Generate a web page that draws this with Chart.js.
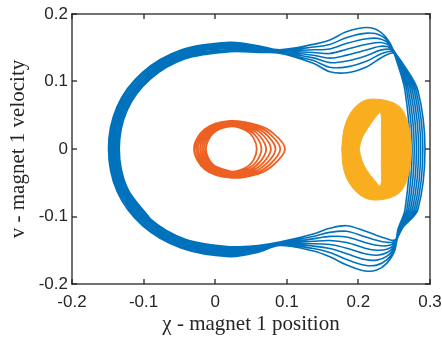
<!DOCTYPE html>
<html><head><meta charset="utf-8">
<script src="https://cdn.jsdelivr.net/npm/chart.js@4.4.1/dist/chart.umd.min.js"></script>
<style>html,body{margin:0;padding:0;background:#fff;overflow:hidden}</style>
</head><body>
<canvas id="c" width="442" height="338" style="width:442px;height:338px;display:block"></canvas>
<script>
// ---- tick values / labels ----
const xTickValues = [-0.2, -0.1, 0, 0.1, 0.2, 0.3];
const xTickLabels = ['-0.2', '-0.1', '0', '0.1', '0.2', '0.3'];
const yTickValues = [-0.2, -0.1, 0, 0.1, 0.2];
const yTickLabels = ['-0.2', '-0.1', '0', '0.1', '0.2'];
const xTitle = 'χ - magnet 1 position';
const yTitle = 'v - magnet 1 velocity';

// ---- series 1 (blue): successive loops of the large orbit ----
const blueX = [
 [-0.134,-0.1229,-0.0907,-0.0418,0.02,0.06,0.09,0.137,0.160,0.184,0.212,0.2330,0.2490,0.2630,0.2830,0.2930,0.2830,0.2630,0.251,0.2395,0.2256,0.2092,0.1837,0.160,0.137,0.090,0.060,0.020,-0.0418,-0.0907,-0.1229],
 [-0.1361,-0.1249,-0.0922,-0.0427,0.02,0.06,0.09,0.137,0.160,0.184,0.212,0.2326,0.2483,0.2616,0.2804,0.2900,0.2804,0.2619,0.251,0.2395,0.2256,0.2092,0.1837,0.160,0.137,0.090,0.060,0.020,-0.0427,-0.0922,-0.1249],
 [-0.1383,-0.1269,-0.0938,-0.0435,0.02,0.06,0.09,0.137,0.160,0.184,0.212,0.2321,0.2476,0.2601,0.2779,0.2870,0.2779,0.2607,0.251,0.2395,0.2256,0.2092,0.1837,0.160,0.137,0.090,0.060,0.020,-0.0435,-0.0938,-0.1269],
 [-0.1404,-0.1289,-0.0953,-0.0444,0.02,0.06,0.09,0.137,0.160,0.184,0.212,0.2317,0.2469,0.2587,0.2753,0.2840,0.2753,0.2596,0.251,0.2395,0.2256,0.2092,0.1837,0.160,0.137,0.090,0.060,0.020,-0.0444,-0.0953,-0.1289],
 [-0.1426,-0.1308,-0.0969,-0.0452,0.02,0.06,0.09,0.137,0.160,0.184,0.212,0.2313,0.2461,0.2573,0.2727,0.2810,0.2727,0.2584,0.251,0.2395,0.2256,0.2092,0.1837,0.160,0.137,0.090,0.060,0.020,-0.0452,-0.0969,-0.1308],
 [-0.1447,-0.1328,-0.0984,-0.0461,0.02,0.06,0.09,0.137,0.160,0.184,0.212,0.2309,0.2454,0.2559,0.2701,0.2780,0.2701,0.2573,0.251,0.2395,0.2256,0.2092,0.1837,0.160,0.137,0.090,0.060,0.020,-0.0461,-0.0984,-0.1328],
 [-0.1469,-0.1348,-0.1000,-0.0469,0.02,0.06,0.09,0.137,0.160,0.184,0.212,0.2304,0.2447,0.2544,0.2676,0.2750,0.2676,0.2561,0.251,0.2395,0.2256,0.2092,0.1837,0.160,0.137,0.090,0.060,0.020,-0.0469,-0.1000,-0.1348],
 [-0.149,-0.1368,-0.1015,-0.0478,0.02,0.06,0.09,0.137,0.160,0.184,0.212,0.2300,0.2440,0.2530,0.2650,0.2720,0.2650,0.2550,0.251,0.2395,0.2256,0.2092,0.1837,0.160,0.137,0.090,0.060,0.020,-0.0478,-0.1015,-0.1368]
];
const blueY = [
 [0,0.0577,0.1035,0.1336,0.144,0.1430,0.1420,0.1270,0.1145,0.1130,0.1220,0.1360,0.1420,0.1250,0.087,0,-0.090,-0.1150,-0.1348,-0.1330,-0.1280,-0.1215,-0.1136,-0.1175,-0.1260,-0.1380,-0.1430,-0.1447,-0.1336,-0.1035,-0.0577],
 [0,0.0585,0.1049,0.1355,0.146,0.1444,0.1427,0.1310,0.1212,0.1217,0.1303,0.1414,0.1441,0.1260,0.087,0,-0.090,-0.1157,-0.1369,-0.1382,-0.1353,-0.1300,-0.1219,-0.1235,-0.1296,-0.1387,-0.1444,-0.1468,-0.1355,-0.1049,-0.0585],
 [0,0.0593,0.1064,0.1373,0.148,0.1459,0.1434,0.1350,0.1279,0.1304,0.1386,0.1469,0.1463,0.1270,0.087,0,-0.090,-0.1164,-0.1390,-0.1434,-0.1427,-0.1384,-0.1303,-0.1295,-0.1331,-0.1394,-0.1459,-0.1489,-0.1373,-0.1064,-0.0593],
 [0,0.0601,0.1078,0.1392,0.150,0.1473,0.1441,0.1390,0.1346,0.1391,0.1469,0.1523,0.1484,0.1280,0.087,0,-0.090,-0.1171,-0.1411,-0.1486,-0.1500,-0.1469,-0.1386,-0.1355,-0.1367,-0.1401,-0.1473,-0.1510,-0.1392,-0.1078,-0.0601],
 [0,0.0610,0.1093,0.1410,0.152,0.1487,0.1449,0.1430,0.1414,0.1479,0.1551,0.1577,0.1506,0.1290,0.087,0,-0.090,-0.1179,-0.1433,-0.1538,-0.1573,-0.1553,-0.1469,-0.1415,-0.1403,-0.1409,-0.1487,-0.1532,-0.1410,-0.1093,-0.0610],
 [0,0.0618,0.1107,0.1429,0.154,0.1501,0.1456,0.1470,0.1481,0.1566,0.1634,0.1631,0.1527,0.1300,0.087,0,-0.090,-0.1186,-0.1454,-0.1590,-0.1646,-0.1638,-0.1552,-0.1475,-0.1439,-0.1416,-0.1501,-0.1553,-0.1429,-0.1107,-0.0618],
 [0,0.0626,0.1122,0.1447,0.156,0.1516,0.1463,0.1510,0.1548,0.1653,0.1717,0.1686,0.1549,0.1310,0.087,0,-0.090,-0.1193,-0.1475,-0.1642,-0.1720,-0.1722,-0.1636,-0.1535,-0.1474,-0.1423,-0.1516,-0.1574,-0.1447,-0.1122,-0.0626],
 [0,0.0634,0.1136,0.1466,0.158,0.1530,0.1470,0.1550,0.1615,0.1740,0.1800,0.1740,0.1570,0.1320,0.087,0,-0.090,-0.1200,-0.1496,-0.1694,-0.1793,-0.1807,-0.1719,-0.1595,-0.1510,-0.1430,-0.1530,-0.1595,-0.1466,-0.1136,-0.0634]
];

// ---- series 2 (orange): small orbit loops ----
const orangeX = [
 [-0.0130,-0.0026,0.0225,0.0430,0.0533,0.0580,0.0533,0.0430,0.0225,-0.0026],
 [-0.0158,-0.0046,0.0222,0.0455,0.0580,0.0646,0.0580,0.0455,0.0222,-0.0046],
 [-0.0185,-0.0066,0.0219,0.0480,0.0626,0.0712,0.0626,0.0480,0.0219,-0.0066],
 [-0.0213,-0.0087,0.0216,0.0505,0.0673,0.0778,0.0673,0.0505,0.0216,-0.0087],
 [-0.0241,-0.0107,0.0213,0.0530,0.0719,0.0843,0.0719,0.0530,0.0213,-0.0107],
 [-0.0268,-0.0127,0.0210,0.0555,0.0766,0.0909,0.0766,0.0555,0.0210,-0.0127],
 [-0.0296,-0.0147,0.0207,0.0580,0.0812,0.0975,0.0812,0.0580,0.0207,-0.0147]
];
const orangeY = [
 [0,0.0237,0.0335,0.0274,0.0168,0,-0.0168,-0.0274,-0.0335,-0.0237],
 [0,0.0246,0.0348,0.0288,0.0179,0,-0.0180,-0.0291,-0.0350,-0.0248],
 [0,0.0256,0.0362,0.0301,0.0189,0,-0.0191,-0.0308,-0.0365,-0.0258],
 [0,0.0265,0.0375,0.0315,0.0200,0,-0.0203,-0.0325,-0.0380,-0.0269],
 [0,0.0274,0.0388,0.0329,0.0211,0,-0.0214,-0.0341,-0.0395,-0.0279],
 [0,0.0284,0.0402,0.0342,0.0221,0,-0.0226,-0.0358,-0.0410,-0.0290],
 [0,0.0293,0.0415,0.0356,0.0232,0,-0.0237,-0.0375,-0.0425,-0.0300]
];

// ---- series 3 (yellow): dense band, outer envelope and inner hole ----
const yellowOuterX = [0.1767,0.1800,0.1900,0.2050,0.2200,0.2450,0.2600,0.2700,0.2740,0.2700,0.2600,0.2450,0.2200,0.2020,0.1870,0.1790,0.1767];
const yellowOuterY = [0,0.0300,0.0550,0.0700,0.0740,0.0700,0.0600,0.0350,0,-0.0380,-0.0620,-0.0720,-0.0755,-0.0680,-0.0500,-0.0280,0];
const yellowInnerX = [0.2010,0.2050,0.2115,0.2230,0.2310,0.2320,0.2320,0.2310,0.2230,0.2115,0.2050,0.2010];
const yellowInnerY = [0,-0.0170,-0.0311,-0.0470,-0.0548,-0.0200,0.0200,0.0540,0.0460,0.0281,0.0160,0];

const colBlue = '#0072BD', colOrange = '#EE6022', colYellow = '#F8AE1F';
const axisCol = '#262626';

// the trajectory: loop after loop; the first loop's tail is put in front so the start joins smoothly
function loopsToPoints(xs, ys) {
  const pts = [];
  const n0 = xs[0].length;
  pts.push({x: xs[0][n0 - 2], y: ys[0][n0 - 2]});
  pts.push({x: xs[0][n0 - 1], y: ys[0][n0 - 1]});
  for (let k = 0; k < xs.length; k++)
    for (let j = 0; j < xs[k].length; j++) pts.push({x: xs[k][j], y: ys[k][j]});
  const last = xs.length - 1;
  pts.push({x: xs[last][0], y: ys[last][0]});
  pts.push({x: xs[last][1], y: ys[last][1]});
  return pts;
}
function bandPoints(ox, oy, ix, iy) {
  const pts = [];
  for (let i = 0; i < ox.length; i++) pts.push({x: ox[i], y: oy[i]});
  pts.push({x: ox[ox.length-1], y: oy[oy.length-1]});
  pts.push({x: ix[0], y: iy[0]});
  for (let i = 0; i < ix.length; i++) pts.push({x: ix[i], y: iy[i]});
  return pts;
}

// axes box with inward tick marks on all four sides, positioned through the chart's scales
function drawFrame(chart) {
  const ctx = chart.ctx, a = chart.chartArea, x = chart.scales.x, y = chart.scales.y;
  if (!a || !x || !y) return;
  const L = Math.round(a.left), R = Math.round(a.right);
  const T = Math.round(a.top), B = Math.round(a.bottom);
  const w = 1.3, tl = 5;
  ctx.save();
  ctx.fillStyle = axisCol;
  ctx.fillRect(L - w / 2, T - w / 2, R - L + w, w);
  ctx.fillRect(L - w / 2, B - w / 2, R - L + w, w);
  ctx.fillRect(L - w / 2, T - w / 2, w, B - T + w);
  ctx.fillRect(R - w / 2, T - w / 2, w, B - T + w);
  for (const v of xTickValues) {
    const px = Math.round(x.getPixelForValue(v));
    ctx.fillRect(px - w / 2, T, w, tl);
    ctx.fillRect(px - w / 2, B - tl, w, tl);
  }
  for (const v of yTickValues) {
    const py = Math.round(y.getPixelForValue(v));
    ctx.fillRect(L, py - w / 2, tl, w);
    ctx.fillRect(R - tl, py - w / 2, tl, w);
  }
  ctx.restore();
}
const framePlugin = {id: 'axesFrame', afterDatasetsDraw(chart) { drawFrame(chart); }};
Chart.register(framePlugin);

const tickFont = {family: '"Liberation Sans", Arial, sans-serif', size: 17};
const titleFont = {family: '"Liberation Serif", "Times New Roman", serif', size: 21};

const chart = new Chart(document.getElementById('c'), {
  type: 'scatter',
  data: {
    datasets: [
      {data: loopsToPoints(blueX, blueY), showLine: true, borderColor: colBlue, borderWidth: 1.6, pointRadius: 0, tension: 0.33, fill: false, order: 3},
      {data: loopsToPoints(orangeX, orangeY), showLine: true, borderColor: colOrange, borderWidth: 1.8, pointRadius: 0, tension: 0.33, fill: false, order: 2},
      {data: bandPoints(yellowOuterX, yellowOuterY, yellowInnerX, yellowInnerY), showLine: true, borderColor: colYellow, backgroundColor: colYellow, borderWidth: 1, pointRadius: 0, tension: 0.33, fill: 'shape', order: 1}
    ]
  },
  options: {
    responsive: false, animation: false, devicePixelRatio: 1,
    layout: {padding: {top: 14, right: 12, left: 0, bottom: 0}},
    plugins: {legend: {display: false}, tooltip: {enabled: false}},
    scales: {
      x: {type: 'linear', position: 'bottom', min: -0.2, max: 0.3,
        afterBuildTicks: s => { s.ticks = xTickValues.map(v => ({value: v})); },
        afterFit: s => { s.height = 54; s.paddingLeft = 0; s.paddingRight = 0; },
        ticks: {callback: (v, i) => xTickLabels[i], font: tickFont, color: axisCol, padding: 8, maxRotation: 0, autoSkip: false},
        grid: {display: false, drawTicks: false},
        border: {display: false},
        title: {display: true, text: xTitle, font: titleFont, color: axisCol, padding: {top: 0, bottom: 1}}
      },
      y: {type: 'linear', position: 'left', min: -0.2, max: 0.2,
        afterBuildTicks: s => { s.ticks = yTickValues.map(v => ({value: v})); },
        afterFit: s => { s.width = 72; s.paddingTop = 0; s.paddingBottom = 0; },
        ticks: {callback: (v, i) => yTickLabels[i], font: tickFont, color: axisCol, padding: 4, autoSkip: false},
        grid: {display: false, drawTicks: false},
        border: {display: false},
        title: {display: true, text: yTitle, font: titleFont, color: axisCol, padding: {top: 6, bottom: 0}}
      }
    }
  }
});
</script>
</body></html>
